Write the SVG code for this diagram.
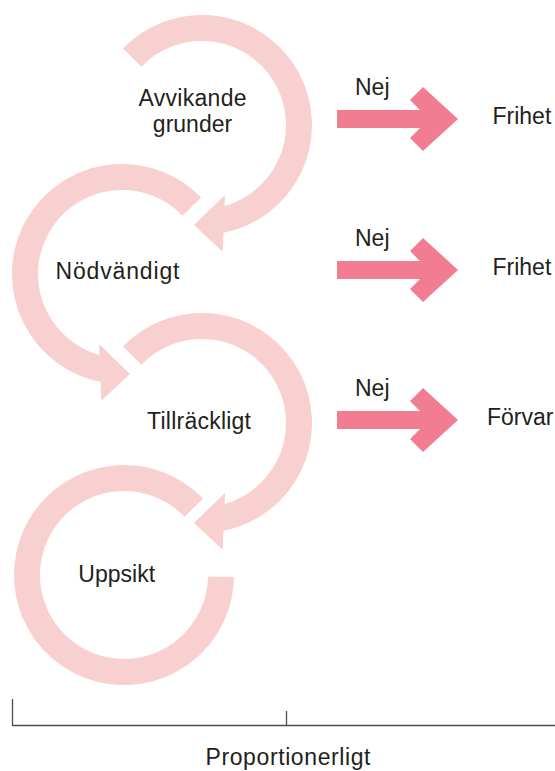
<svg xmlns="http://www.w3.org/2000/svg" xmlns:xlink="http://www.w3.org/1999/xlink" width="555" height="771" viewBox="0 0 555 771">
  <style>
    .lbl { font-family: "Liberation Sans", Arial, sans-serif; font-size: 23px; fill: #231f20; }
    .mid { text-anchor: middle; }
    .loop { fill: none; stroke: #f9d0d0; stroke-width: 26; }
    .head { fill: #f9d0d0; }
    .blk { fill: #f27d93; }
    .axis { fill: none; stroke: #4d4d4d; stroke-width: 1.3; }
  </style>
  <defs>
    <g id="looparrow">
      <path class="loop" d="M -69.8 -67.4 A 97 97 0 1 1 16.8 95.5"/>
      <polygon class="head" points="23,70 -8,100 20.7,126.7"/>
    </g>
    <path id="blockarrow" class="blk" d="M337,-9 H420 L410,-19 L423,-32 L458,0 L423,32 L410,19 L420,9 H337 Z"/>
  </defs>

  <g id="node-avvikande">
    <use xlink:href="#looparrow" href="#looparrow" transform="translate(202,125)"/>
    <text class="lbl mid" x="192.5" y="106" textLength="108" lengthAdjust="spacing">Avvikande</text>
    <text class="lbl mid" x="192.5" y="132">grunder</text>
  </g>

  <g id="node-nodvandigt">
    <use xlink:href="#looparrow" href="#looparrow" transform="translate(122,274) scale(-1,1)"/>
    <text class="lbl mid" x="117.5" y="278.5" textLength="124" lengthAdjust="spacing">Nödvändigt</text>
  </g>

  <g id="node-tillrackligt">
    <use xlink:href="#looparrow" href="#looparrow" transform="translate(202,423)"/>
    <text class="lbl mid" x="199" y="428.5" textLength="104" lengthAdjust="spacing">Tillräckligt</text>
  </g>

  <g id="node-uppsikt">
    <path class="loop" transform="translate(124,575)" d="M 69.8 -67.4 A 97 97 0 1 0 97 1.7"/>
    <text class="lbl mid" x="116.7" y="581.7">Uppsikt</text>
  </g>

  <g id="node-frihet-1">
    <text class="lbl" x="492.5" y="123.5">Frihet</text>
  </g>
  <g id="node-frihet-2">
    <text class="lbl" x="492.5" y="274.5">Frihet</text>
  </g>
  <g id="node-forvar">
    <text class="lbl" x="487" y="424.5">Förvar</text>
  </g>

  <g id="connectors">
    <use xlink:href="#blockarrow" href="#blockarrow" transform="translate(0,119)"/>
    <text class="lbl" x="355" y="94.5">Nej</text>
    <use xlink:href="#blockarrow" href="#blockarrow" transform="translate(0,270)"/>
    <text class="lbl" x="355" y="245.5">Nej</text>
    <use xlink:href="#blockarrow" href="#blockarrow" transform="translate(0,420)"/>
    <text class="lbl" x="355" y="395.5">Nej</text>
  </g>

  <g id="axis">
    <path class="axis" d="M12.5,699 V725.5 H555 M286.5,711 V725.5"/>
    <text class="lbl mid" x="288" y="765" textLength="165" lengthAdjust="spacing">Proportionerligt</text>
  </g>
</svg>
